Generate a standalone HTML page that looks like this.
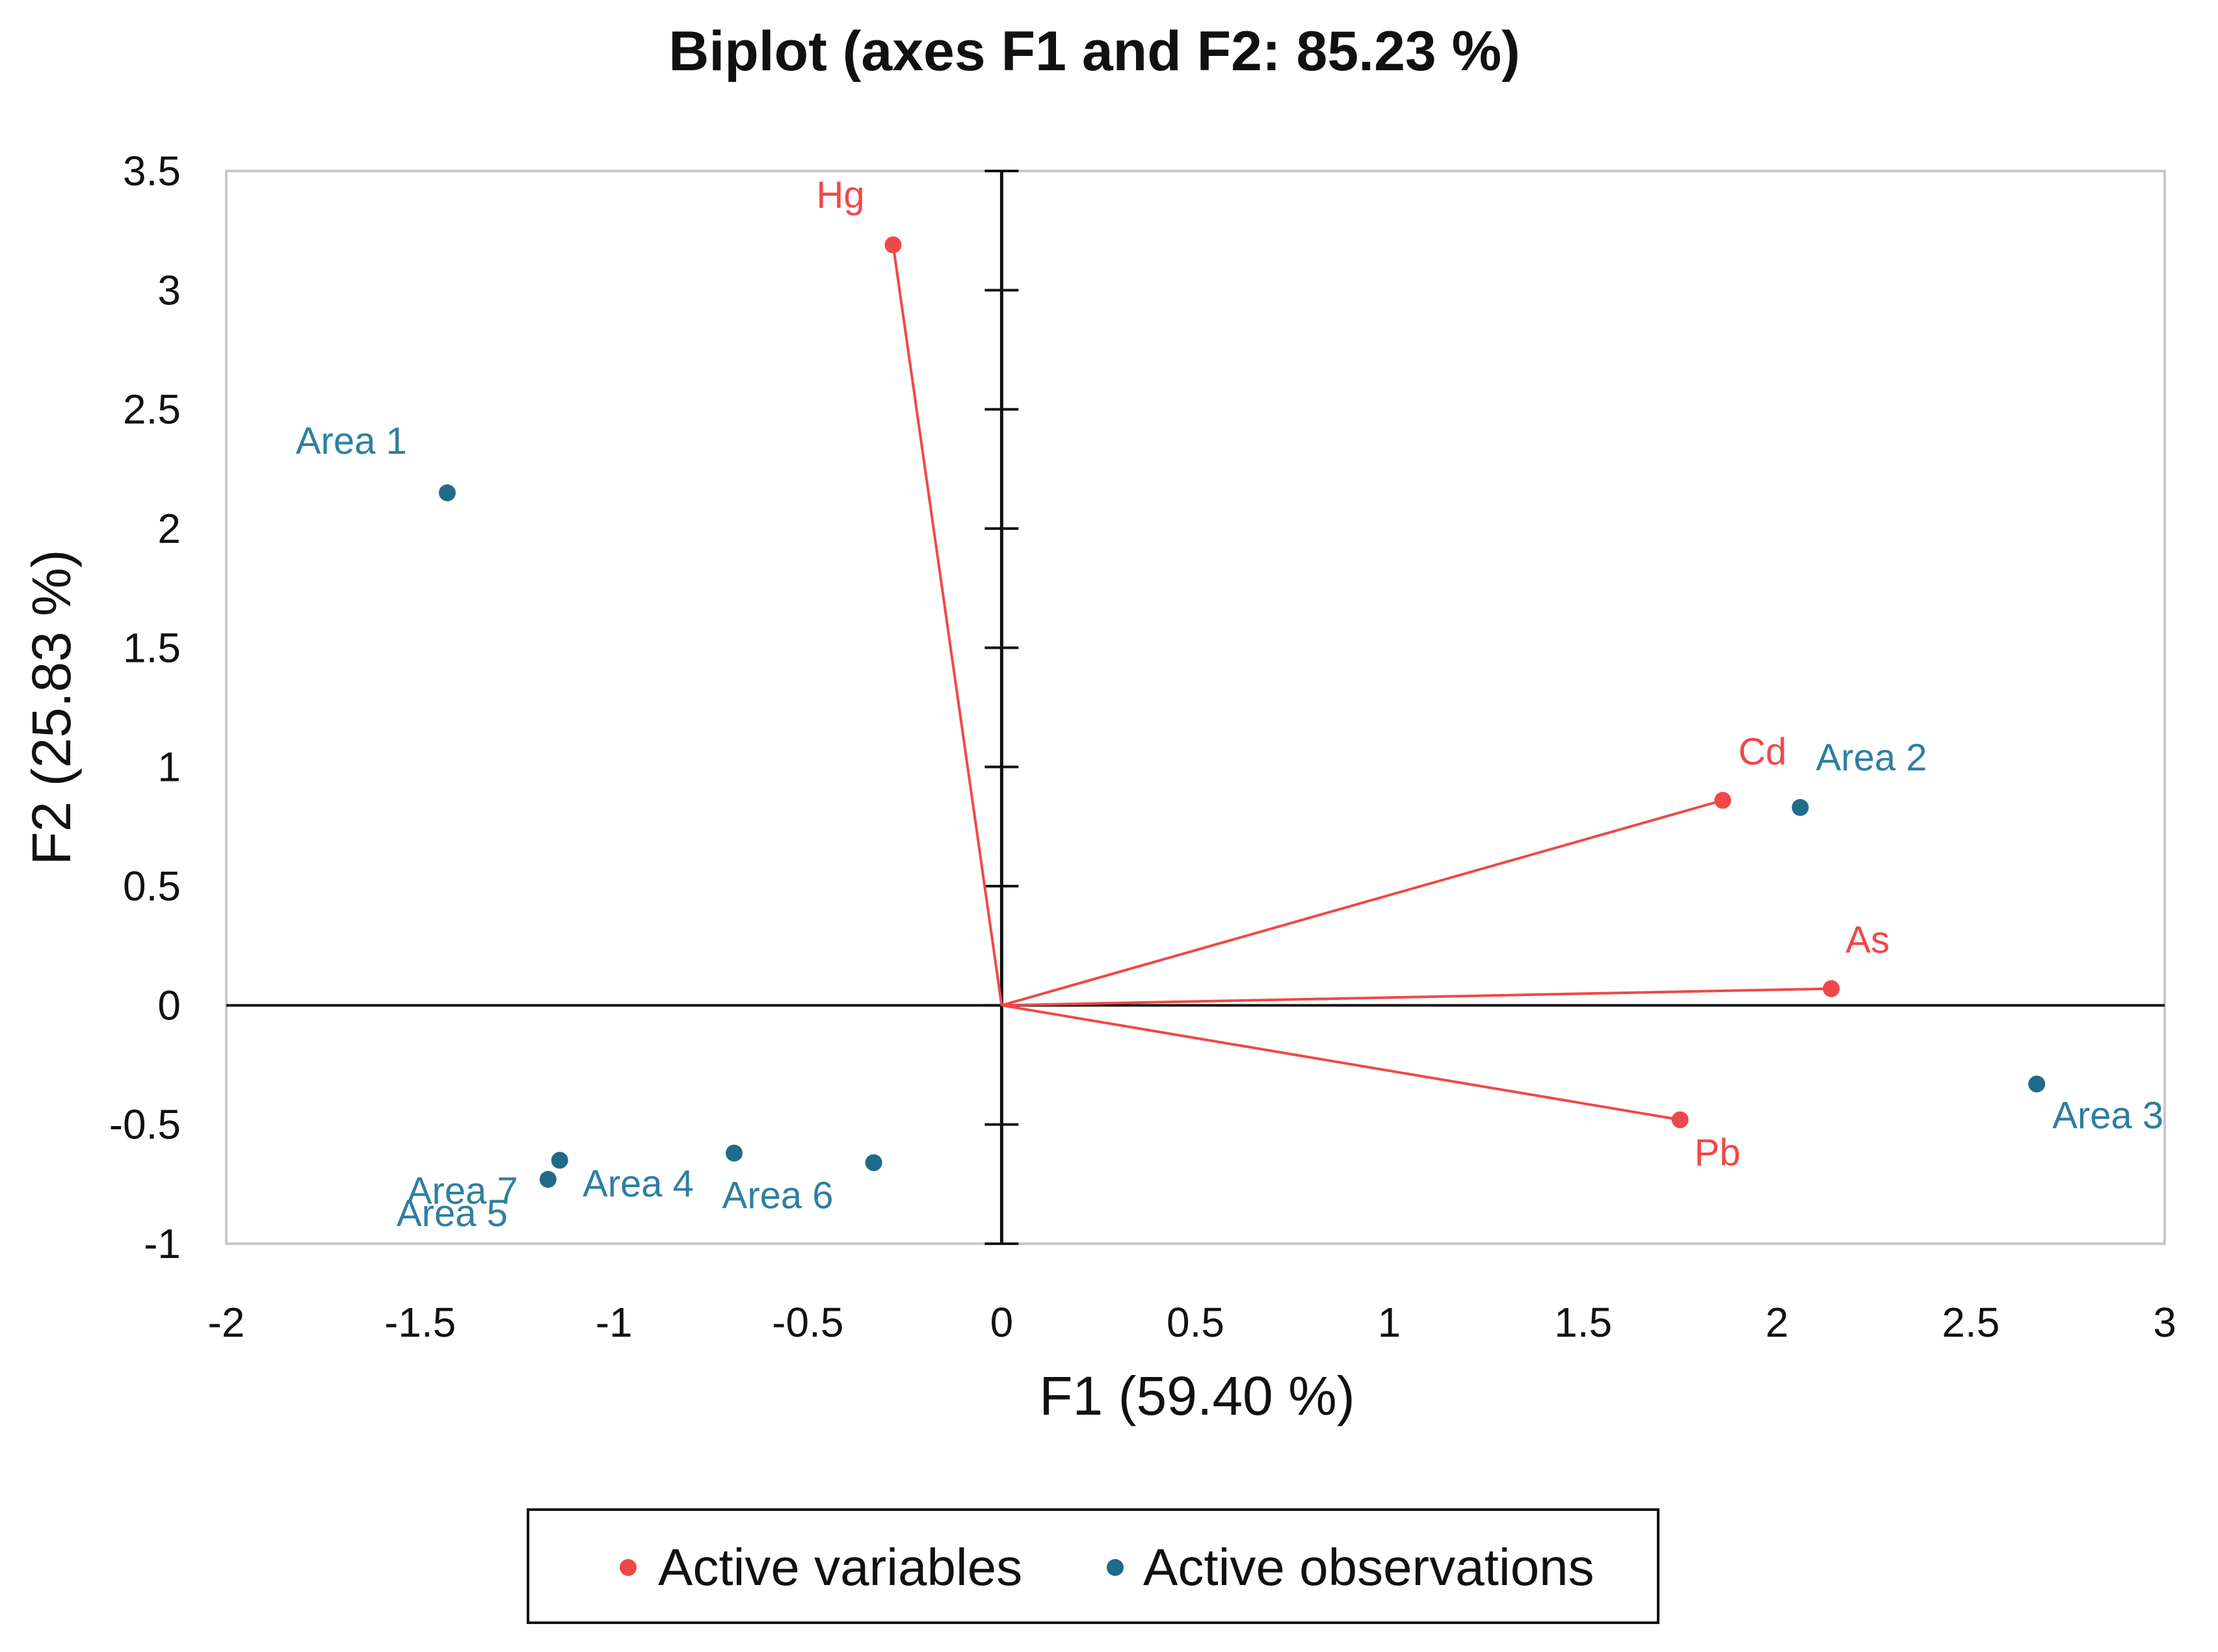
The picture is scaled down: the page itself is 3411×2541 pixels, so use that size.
<!DOCTYPE html>
<html><head><meta charset="utf-8"><style>
html,body{margin:0;padding:0;background:#fff}
svg{display:block}
text{font-family:"Liberation Sans",sans-serif}
</style></head><body>
<svg id="chart" width="3411" height="2541" viewBox="0 0 3411 2541" xmlns="http://www.w3.org/2000/svg">
<text x="1683" y="108" font-size="86" font-weight="bold" text-anchor="middle" fill="#111">Biplot (axes F1 and F2: 85.23 %)</text>
<rect x="348" y="263" width="2981" height="1650" fill="none" stroke="#c8c8c8" stroke-width="4"/>
<g id="grid"></g>
<g id="marks"></g>
<text x="1841" y="2176" font-size="84" text-anchor="middle" fill="#111">F1 (59.40 %)</text>
<text x="0" y="0" font-size="84" text-anchor="middle" fill="#111" transform="translate(108,1088) rotate(-90)">F2 (25.83 %)</text>
<g>
<rect x="812" y="2322" width="1738" height="174" fill="#fff" stroke="#111" stroke-width="4"/>
<circle cx="966" cy="2411" r="13" fill="#f04848"/>
<text x="1012" y="2438" font-size="80" fill="#111">Active variables</text>
<circle cx="1715" cy="2411" r="13" fill="#1f6b8a"/>
<text x="1758" y="2438" font-size="80" fill="#111">Active observations</text>
</g>
</svg>
<script>
const xTicks = [-2,-1.5,-1,-0.5,0,0.5,1,1.5,2,2.5,3];
const yTicks = [3.5,3,2.5,2,1.5,1,0.5,0,-0.5,-1];
const varNames = ["Hg","Cd","As","Pb"];
const varF1 = [-0.28,1.86,2.14,1.75];
const varF2 = [3.19,0.86,0.07,-0.48];
const obsNames = ["Area 1","Area 2","Area 3","Area 4","Area 5","Area 6","Area 7"];
const obsF1 = [-1.43,2.06,2.67,-0.69,-1.17,-0.33,-1.14];
const obsF2 = [2.15,0.83,-0.33,-0.62,-0.73,-0.66,-0.65];
// label offsets (style, not data)
const varLabelDx = [-118,24,22,22], varLabelDy = [-57,-55,-55,70];
const obsLabelDx = [-233,24,24,-233,-233,-233,-235], obsLabelDy = [-60,-57,68,67,72,70,67];

const X0=348,X1=3329,Y0=263,Y1=1913,xmin=-2,xmax=3,ymin=-1,ymax=3.5;
const sx=v=>X0+(v-xmin)/(xmax-xmin)*(X1-X0);
const sy=v=>Y1-(v-ymin)/(ymax-ymin)*(Y1-Y0);
const NS="http://www.w3.org/2000/svg";
const grid=document.getElementById('grid'), marks=document.getElementById('marks');
function mk(tag,attrs,parent){const e=document.createElementNS(NS,tag);for(const k in attrs)e.setAttribute(k,attrs[k]);parent.appendChild(e);return e;}

xTicks.forEach(t=>{
  const e=mk('text',{x:sx(t),y:2056,'font-size':64,'text-anchor':'middle',fill:'#111'},grid);
  e.textContent=String(t);
  
  
});
yTicks.forEach(t=>{
  const e=mk('text',{x:278,y:sy(t)+22,'font-size':64,'text-anchor':'end',fill:'#111'},grid);
  e.textContent=String(t);
  
  
  const tk=mk('line',{x1:sx(0)-26,x2:sx(0)+26,y1:sy(t),y2:sy(t),stroke:'#111','stroke-width':4},grid);
  
  
});
let a=mk('line',{x1:X0,x2:X1,y1:sy(0),y2:sy(0),stroke:'#111','stroke-width':4},grid);


a=mk('line',{x1:sx(0),x2:sx(0),y1:Y0,y2:Y1,stroke:'#111','stroke-width':5},grid);



varNames.forEach((n,i)=>{
  const l=mk('line',{x1:sx(0),y1:sy(0),x2:sx(varF1[i]),y2:sy(varF2[i]),stroke:'#f04848','stroke-width':4},marks);
  
  
  const c=mk('circle',{cx:sx(varF1[i]),cy:sy(varF2[i]),r:13,fill:'#f04848'},marks);
  
  
  const t=mk('text',{x:sx(varF1[i])+varLabelDx[i],y:sy(varF2[i])+varLabelDy[i],'font-size':58,fill:'#f04848'},marks);
  t.textContent=n;
  
  
});
obsNames.forEach((n,i)=>{
  const c=mk('circle',{cx:sx(obsF1[i]),cy:sy(obsF2[i]),r:13,fill:'#1f6b8a'},marks);
  
  
  const t=mk('text',{x:sx(obsF1[i])+obsLabelDx[i],y:sy(obsF2[i])+obsLabelDy[i],'font-size':58,fill:'#2e7fa0'},marks);
  t.textContent=n;
  
  
});
</script>
</body></html>
